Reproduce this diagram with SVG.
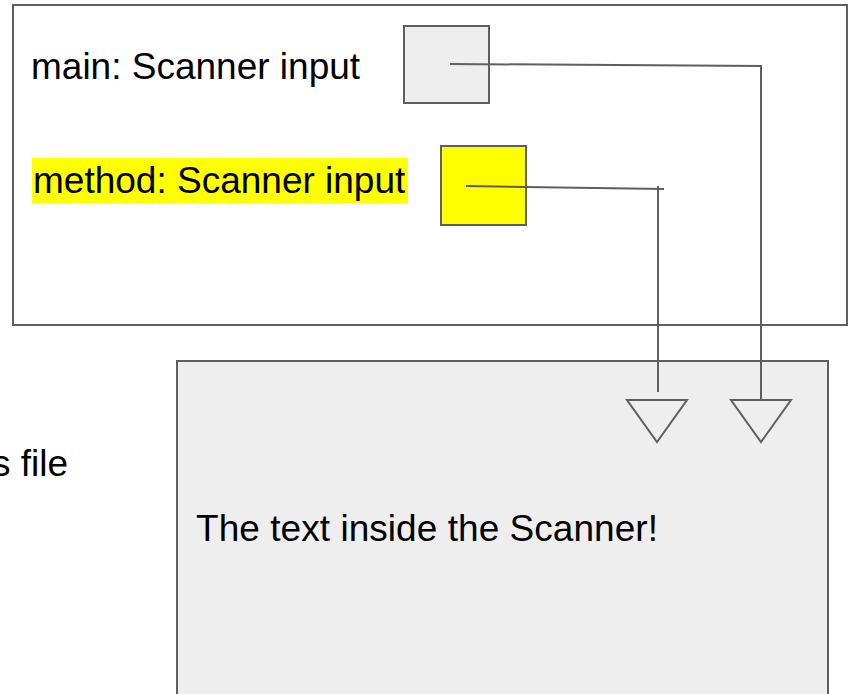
<svg xmlns="http://www.w3.org/2000/svg" width="850" height="694" viewBox="0 0 850 694">
<style>
.box{stroke:#5f5f5f;stroke-width:2}
.t{font-family:"Liberation Sans",Arial,sans-serif;font-size:37px;fill:#000000}
.ln{stroke:#5f5f5f;stroke-width:2;fill:none}
.hd{stroke:#5f5f5f;stroke-width:2;fill:none;stroke-linejoin:miter}
</style>
<rect width="850" height="694" fill="#ffffff"/>
<g id="stack-frame">
<rect class="box" x="13" y="5" width="834" height="320" fill="#ffffff"/>
</g>
<g id="main-var">
<text class="t" x="31" y="79">main: Scanner input</text>
<rect class="box" x="404" y="26" width="85" height="77" fill="#eeeeee"/>
</g>
<g id="method-var">
<rect x="32" y="158" width="376" height="45" fill="#ffff00"/>
<text class="t" x="33" y="193">method: Scanner input</text>
<rect class="box" x="441" y="146" width="85" height="79" fill="#ffff00"/>
</g>
<g id="scanner-object">
<rect class="box" x="177" y="361" width="651" height="345" fill="#eeeeee"/>
<text class="t" x="196" y="541" textLength="462">The text inside the Scanner!</text>
</g>
<g id="file-label">
<text class="t" x="-8" y="476" font-size="35">s file</text>
</g>
<g id="connectors">
<polyline class="ln" points="450,64 761,66 761,400"/>
<line class="ln" x1="466" y1="186" x2="664" y2="189"/>
<line class="ln" x1="658" y1="186" x2="658" y2="392"/>
<polygon class="hd" points="627,400 687,400 657,442"/>
<polygon class="hd" points="731,400 791,400 761,442"/>
</g>
</svg>
